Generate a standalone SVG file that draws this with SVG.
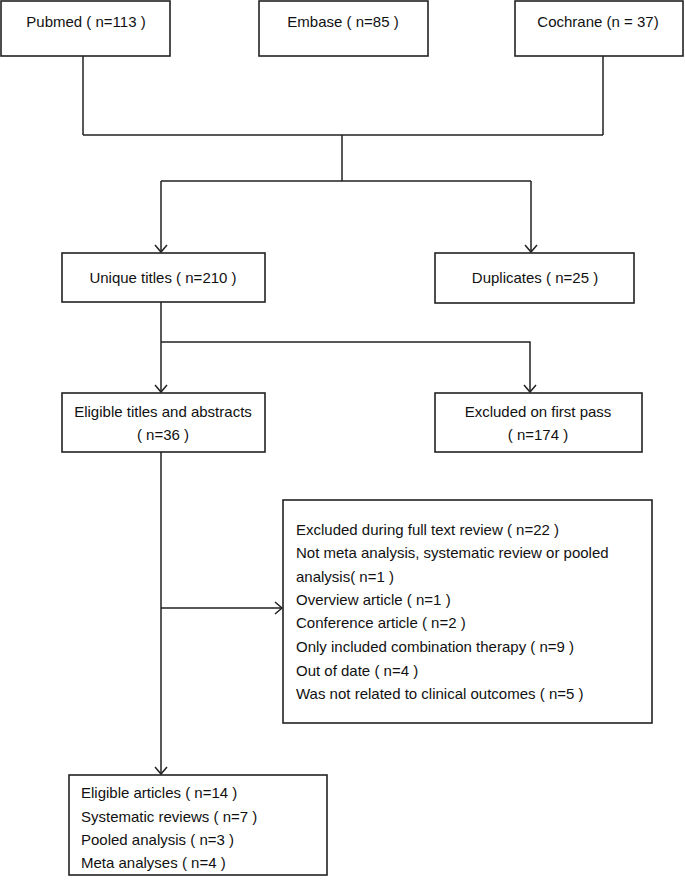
<svg xmlns="http://www.w3.org/2000/svg" width="685" height="887" viewBox="0 0 685 887">
<defs>
<style>
.box{fill:#fff;stroke:#222;stroke-width:1.6}
.ln{fill:none;stroke:#222;stroke-width:1.5}
.ah{fill:none;stroke:#222;stroke-width:1.5}
text{font-family:"Liberation Sans",Arial,sans-serif;font-size:15px;fill:#111}
.c{text-anchor:middle}
</style>
</defs>
<rect width="685" height="887" fill="#fff"/>
<g id="connectors">
<path class="ln" d="M83 56V135M603 56V135M83 135H603M342 135V181M161 181H531M161 181V252M531 181V252"/>
<path class="ah" d="M155 245L161 252L167 245M525 245L531 252L537 245"/>
<path class="ln" d="M161 302V392M161 342H530V392"/>
<path class="ah" d="M155 385L161 392L167 385M524 385L530 392L536 385"/>
<path class="ln" d="M161 452V774M161 608H282"/>
<path class="ah" d="M275 602L282 608L275 614M155 767L161 774L167 767"/>
</g>
<g id="pubmed"><rect class="box" x="1" y="1" width="169" height="55"/><text class="c" x="86" y="27">Pubmed ( n=113 )</text></g>
<g id="embase"><rect class="box" x="259" y="1" width="169" height="55"/><text class="c" x="343" y="27">Embase ( n=85 )</text></g>
<g id="cochrane"><rect class="box" x="515" y="1" width="168" height="55"/><text class="c" x="598" y="27">Cochrane (n = 37)</text></g>
<g id="unique"><rect class="box" x="62" y="253" width="203" height="49"/><text class="c" x="163" y="283">Unique titles ( n=210 )</text></g>
<g id="duplicates"><rect class="box" x="435" y="253" width="199" height="50"/><text class="c" x="535" y="283">Duplicates ( n=25 )</text></g>
<g id="eligible-titles"><rect class="box" x="62" y="393" width="203" height="59"/><text class="c" x="163" y="417">Eligible titles and abstracts</text><text class="c" x="163" y="440">( n=36 )</text></g>
<g id="excluded-first"><rect class="box" x="435" y="393" width="207" height="59"/><text class="c" x="538" y="417">Excluded on first pass</text><text class="c" x="538" y="440">( n=174 )</text></g>
<g id="excluded-full"><rect class="box" x="283" y="500" width="369" height="223"/>
<text x="296" y="535">Excluded during full text review ( n=22 )</text>
<text x="296" y="558">Not meta analysis, systematic review or pooled</text>
<text x="296" y="582">analysis( n=1 )</text>
<text x="296" y="605">Overview article ( n=1 )</text>
<text x="296" y="628">Conference article ( n=2 )</text>
<text x="296" y="652">Only included combination therapy ( n=9 )</text>
<text x="296" y="676">Out of date ( n=4 )</text>
<text x="296" y="699">Was not related to clinical outcomes ( n=5 )</text>
</g>
<g id="eligible-articles"><rect class="box" x="69" y="775" width="258" height="100"/>
<text x="81" y="798">Eligible articles ( n=14 )</text>
<text x="81" y="822">Systematic reviews ( n=7 )</text>
<text x="81" y="845">Pooled analysis ( n=3 )</text>
<text x="81" y="868">Meta analyses ( n=4 )</text>
</g>
</svg>
